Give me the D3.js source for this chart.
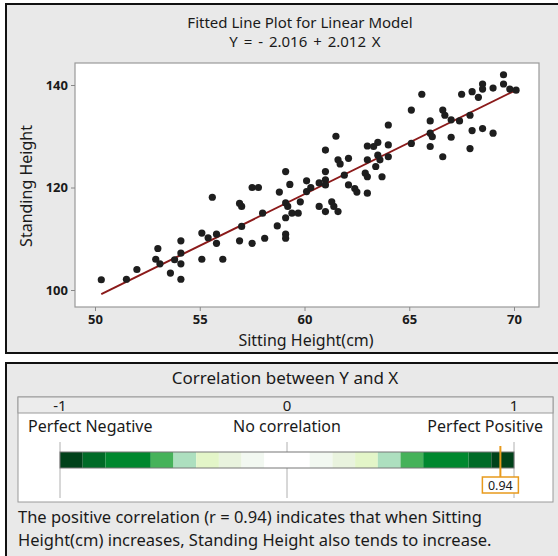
<!DOCTYPE html>
<html>
<head>
<meta charset="utf-8">
<script src="https://cdn.jsdelivr.net/npm/d3@7"></script>
<style>
body { margin:0; background:#fff; }
svg text { font-family:"Noto Sans", "DejaVu Sans", sans-serif; fill:#1a1a1a; }
</style>
</head>
<body>
<div id="chart"></div>
<script>
// sitting height (cm) / standing height
var sitting = [50.3,51.5,52.0,52.9,53.0,53.1,53.6,54.1,54.1,54.1,54.1,53.8,55.1,55.1,55.6,55.4,55.8,55.8,56.1,56.9,
  57.0,57.0,56.9,57.5,57.5,57.8,58.0,58.1,58.7,58.8,59.1,59.1,59.1,59.1,59.1,59.3,59.2,59.4,59.7,60.1,
  60.1,60.3,59.8,60.7,61.0,61.0,61.0,61.0,60.7,61.0,61.3,61.4,61.6,61.5,61.6,61.9,62.1,62.1,62.4,62.5,
  62.9,63.0,63.0,63.0,63.0,63.5,63.4,63.6,63.7,64.0,64.0,64.0,65.1,65.1,65.6,66.0,66.0,66.1,66.0,66.6,
  66.7,66.6,67.0,67.0,67.4,67.5,67.9,68.0,68.0,67.9,68.3,68.5,68.5,68.5,69.0,69.5,69.5,69.8,70.1,69.0,
  63.3,61.7,63.5];
var standing = [102.0,102.1,104.0,106.0,108.1,105.1,103.3,109.6,107.2,105.1,102.1,105.9,111.1,106.0,118.1,110.2,110.9,109.1,106.0,116.9,
  116.3,112.4,109.6,109.1,120.0,120.0,115.0,110.1,112.5,119.1,123.1,117.0,114.1,110.9,110.1,120.6,116.3,115.0,115.0,121.3,
  119.2,120.0,117.2,120.9,121.5,120.5,127.3,123.1,116.3,115.3,117.2,116.3,115.3,130.0,125.4,122.4,125.7,120.5,119.8,119.1,
  122.8,122.1,125.4,118.9,128.1,128.8,124.1,125.4,122.1,128.3,126.0,132.2,135.1,128.6,138.2,133.0,130.6,129.9,128.0,135.1,
  134.1,126.0,133.2,129.8,133.0,138.2,134.1,138.7,131.1,127.6,137.6,140.2,139.2,131.5,139.4,142.0,140.2,139.2,139.0,130.6,
  128.0,124.6,126.3];
var intercept = -2.016, slope = 2.012;
var xTicks = [50,55,60,65,70];
var yTicks = [100,120,140];

// correlation bar
var r = 0.94;
var binEdges = [-1,-0.9,-0.8,-0.6,-0.5,-0.4,-0.3,-0.2,-0.1,0.1,0.2,0.3,0.4,0.5,0.6,0.8,0.9,1];
var binColors = ["#00421a","#006b27","#00882f","#46b25a","#addfbf","#e3f5c8","#e9f3de","#f2f8f1","#ffffff",
  "#f2f8f1","#e9f3de","#e3f5c8","#addfbf","#46b25a","#00882f","#006b27","#00421a"];
var corrTicks = [-1,0,1];
var corrNames = ["Perfect Negative","No correlation","Perfect Positive"];

var svg = d3.select("#chart").append("svg").attr("width",558).attr("height",556);

// ---- top panel ----
svg.append("rect").attr("x",6).attr("y",4).attr("width",560).attr("height",349)
  .attr("fill","#e9e9e9").attr("stroke","#111").attr("stroke-width",2);

var x = d3.scaleLinear().domain([50,70]).range([95,514]);
var y = d3.scaleLinear().domain([100,140]).range([290,85]);

svg.append("rect").attr("x",75).attr("y",63).attr("width",464).attr("height",244)
  .attr("fill","#fff").attr("stroke","#9a9a9a").attr("stroke-width",1.2);

svg.append("text").attr("x",300).attr("y",28).attr("text-anchor","middle")
  .attr("font-size",15).text("Fitted Line Plot for Linear Model");
svg.append("text").attr("x",305).attr("y",47).attr("text-anchor","middle")
  .attr("font-size",15).attr("word-spacing",2).text("Y = - 2.016 + 2.012 X");

var xAxis = svg.append("g").attr("transform","translate(0,307)")
  .call(d3.axisBottom(x).tickValues(xTicks).tickSize(4).tickPadding(4));
var yAxis = svg.append("g").attr("transform","translate(75,0)")
  .call(d3.axisLeft(y).tickValues(yTicks).tickSize(4).tickPadding(3));
[xAxis,yAxis].forEach(function(g){
  g.select(".domain").remove();
  g.selectAll("line").attr("stroke","#888");
  g.selectAll("text").attr("font-size",13).attr("font-weight","bold").attr("fill","#333")
    .style("font-family","'Noto Sans', sans-serif");
});

svg.append("text").attr("x",306).attr("y",346).attr("text-anchor","middle")
  .attr("font-size",16).text("Sitting Height(cm)");
svg.append("text").attr("transform","translate(32,186) rotate(-90)").attr("text-anchor","middle")
  .attr("font-size",16).text("Standing Height");

var xMin = d3.min(sitting), xMax = d3.max(sitting);
svg.append("line")
  .attr("x1",x(xMin)).attr("y1",y(intercept+slope*xMin))
  .attr("x2",x(xMax)).attr("y2",y(intercept+slope*xMax))
  .attr("stroke","#8b1a1a").attr("stroke-width",2);

svg.selectAll("circle.pt").data(sitting).enter().append("circle")
  .attr("class","pt")
  .attr("cx",function(d){ return x(d); })
  .attr("cy",function(d,i){ return y(standing[i]); })
  .attr("r",3.6).attr("fill","#1e1e1e");

// ---- bottom panel ----
svg.append("rect").attr("x",6).attr("y",363).attr("width",560).attr("height",200)
  .attr("fill","#e9e9e9").attr("stroke","#111").attr("stroke-width",2);

svg.append("text").attr("x",285).attr("y",384).attr("text-anchor","middle")
  .attr("font-size",17).text("Correlation between Y and X");

var c = d3.scaleLinear().domain([-1,1]).range([60,514]);

svg.append("rect").attr("x",18).attr("y",397).attr("width",535).attr("height",105)
  .attr("fill","#fff").attr("stroke","#9a9a9a");
svg.append("rect").attr("x",18).attr("y",397).attr("width",535).attr("height",16)
  .attr("fill","#ececec").attr("stroke","#9a9a9a");

svg.selectAll("text.ct").data(corrTicks).enter().append("text").attr("class","ct")
  .attr("x",function(d){ return c(d); }).attr("y",411).attr("text-anchor","middle")
  .attr("font-size",15).text(function(d){ return d; });

svg.selectAll("text.cn").data(corrNames).enter().append("text").attr("class","cn")
  .attr("x",function(d,i){ return i==0 ? 28 : i==1 ? c(0) : 543; })
  .attr("y",432)
  .attr("text-anchor",function(d,i){ return i==0 ? "start" : i==1 ? "middle" : "end"; })
  .attr("font-size",16).text(function(d){ return d; });

svg.selectAll("line.cg").data(corrTicks).enter().append("line").attr("class","cg")
  .attr("x1",function(d){ return c(d); }).attr("x2",function(d){ return c(d); })
  .attr("y1",442).attr("y2",498).attr("stroke","#b0b0b0");

svg.selectAll("rect.bin").data(binColors).enter().append("rect").attr("class","bin")
  .attr("x",function(d,i){ return c(binEdges[i]); })
  .attr("width",function(d,i){ return c(binEdges[i+1])-c(binEdges[i]); })
  .attr("y",452).attr("height",16).attr("fill",function(d){ return d; });
svg.append("rect").attr("x",c(-1)).attr("y",452).attr("width",c(1)-c(-1)).attr("height",16)
  .attr("fill","none").attr("stroke","#777");

svg.append("line").attr("x1",c(r)).attr("x2",c(r)).attr("y1",446).attr("y2",477)
  .attr("stroke","#e89a1c").attr("stroke-width",2);
svg.append("rect").attr("x",c(r)-18).attr("y",477).attr("width",36).attr("height",16)
  .attr("fill","#fff").attr("stroke","#e89a1c").attr("stroke-width",1.5);
svg.append("text").attr("x",c(r)).attr("y",490).attr("text-anchor","middle")
  .attr("font-size",12.5).text(r);

svg.append("text").attr("x",18).attr("y",523).attr("font-size",16.5)
  .text("The positive correlation (r = 0.94) indicates that when Sitting");
svg.append("text").attr("x",18).attr("y",546).attr("font-size",16.5)
  .text("Height(cm) increases, Standing Height also tends to increase.");
</script>
</body>
</html>
